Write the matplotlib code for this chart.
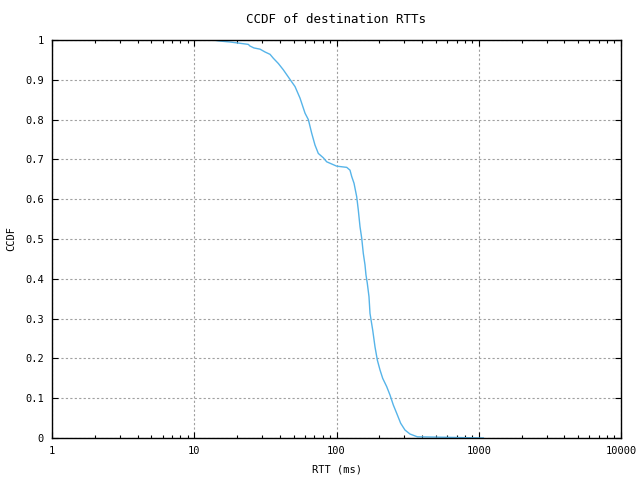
import numpy as np
import matplotlib
matplotlib.use("Agg")
import matplotlib.pyplot as plt
from matplotlib.ticker import FixedLocator, LogLocator, NullFormatter

# RTT (ms) and CCDF value
rtt_ms = [13.5, 15.0, 17.8, 20.7, 24.0, 24.6, 26.3, 29.0, 31.4, 34.1,
          36.0, 39.0, 42.3, 47.1, 51.1, 55.4, 60.1, 63.4, 66.9, 70.6,
          74.5, 80.8, 85.3, 100.3, 118.0, 124.4, 127.9, 132.8, 138.7, 142.3,
          146.3, 150.4, 154.3, 158.6, 161.1, 164.6, 169.2, 172.0, 179.7, 186.5,
          193.6, 202.2, 211.2, 225.4, 237.7, 250.8, 265.0, 282.6, 303.0, 328.6,
          370.0, 454.0, 1077.0]
ccdf = [1.0, 0.9975, 0.995, 0.992, 0.989, 0.985, 0.98, 0.977, 0.97, 0.964,
        0.954, 0.941, 0.925, 0.901, 0.883, 0.854, 0.816, 0.80, 0.766, 0.736,
        0.715, 0.704, 0.694, 0.683, 0.680, 0.673, 0.657, 0.64, 0.606, 0.573,
        0.531, 0.502, 0.464, 0.435, 0.41, 0.389, 0.355, 0.313, 0.271, 0.229,
        0.196, 0.171, 0.15, 0.129, 0.108, 0.083, 0.062, 0.037, 0.02, 0.01,
        0.003, 0.0025, 0.0]

x_ticks = [1, 10, 100, 1000, 10000]
x_labels = ["1", "10", "100", "1000", "10000"]
y_ticks = [0, 0.1, 0.2, 0.3, 0.4, 0.5, 0.6, 0.7, 0.8, 0.9, 1]
y_labels = ["0", "0.1", "0.2", "0.3", "0.4", "0.5", "0.6", "0.7", "0.8", "0.9", "1"]

plt.rcParams['font.family'] = ['DejaVu Sans Mono']
plt.rcParams['font.size'] = 7.5

fig = plt.figure(figsize=(6.4, 4.8), dpi=100)
ax = fig.add_axes([52/640, 42/480, 569/640, 398/480])

ax.plot(rtt_ms, ccdf, color="#56b4e9", lw=1.0)

ax.set_xscale("log")
ax.set_xlim(1, 10000)
ax.set_ylim(0, 1)
ax.xaxis.set_major_locator(FixedLocator(x_ticks))
ax.set_xticklabels(x_labels)
ax.xaxis.set_minor_locator(LogLocator(base=10, subs=np.arange(2, 10)))
ax.xaxis.set_minor_formatter(NullFormatter())
ax.set_yticks(y_ticks)
ax.set_yticklabels(y_labels)

ax.tick_params(which="both", direction="in", top=True, right=True, colors="black")
ax.tick_params(which="major", length=4.5, width=0.8, pad=6)
ax.tick_params(which="minor", length=2.5, width=0.8)

ax.grid(True, which="major", color="#a0a0a0", linestyle=(0, (2, 2)), linewidth=0.8)
for sp in ax.spines.values():
    sp.set_linewidth(1.0)

ax.set_title("CCDF of destination RTTs", pad=12)
ax.set_xlabel("RTT (ms)", labelpad=6)
ax.set_ylabel("CCDF", labelpad=6)

fig.savefig("out.png", dpi=100)
